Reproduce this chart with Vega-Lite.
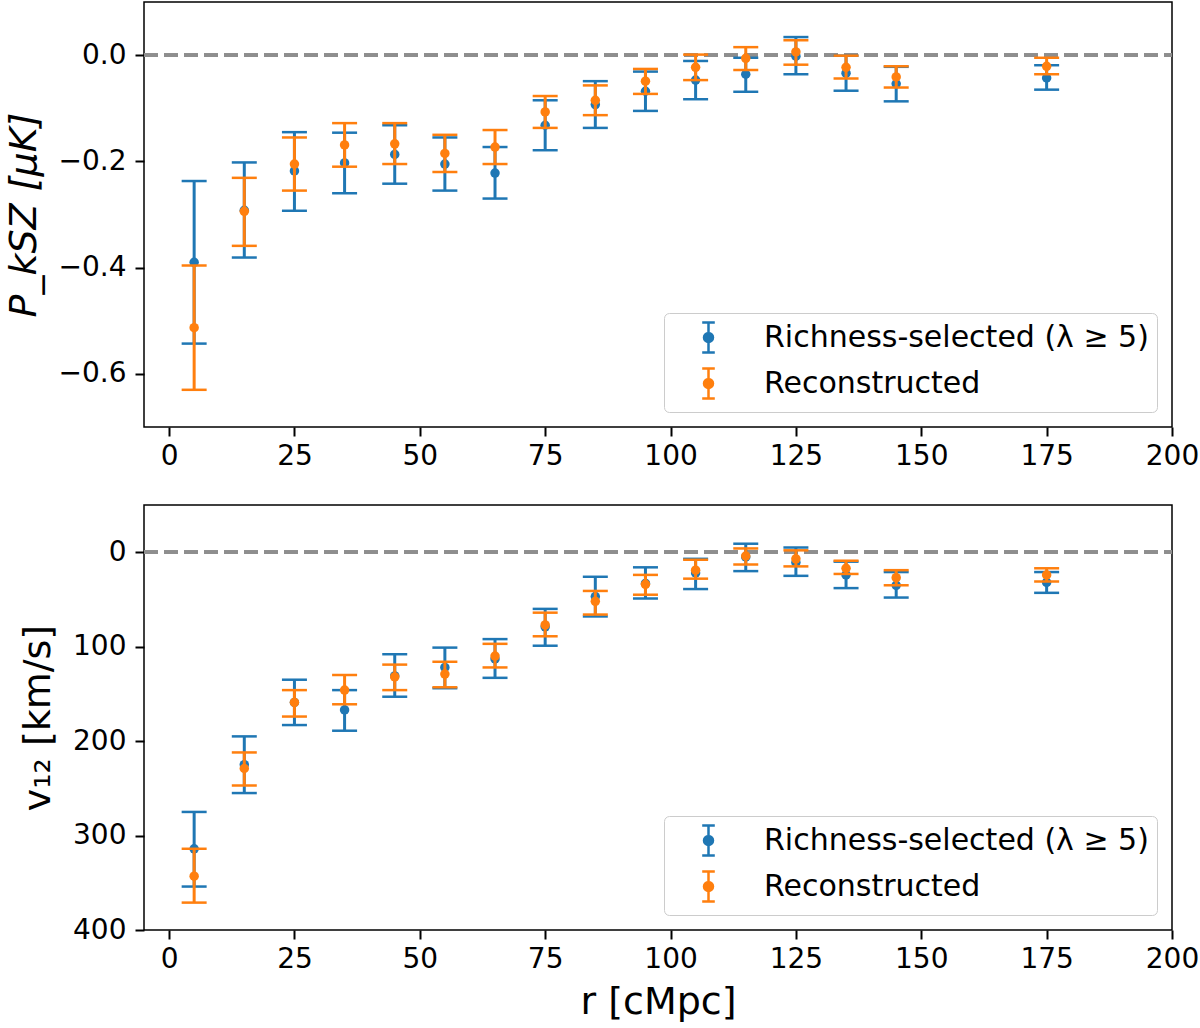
{
  "$schema": "https://vega.github.io/schema/vega-lite/v6.json",
  "background": "white",
  "padding": {"left": 4, "top": 1, "right": 0, "bottom": 0},
  "bounds": "flush",
  "spacing": 78,
  "datasets": {
    "pksz": [
      {"series": "Richness-selected (λ ≥ 5)", "r": 5, "y": -0.390, "lo": -0.543, "hi": -0.237},
      {"series": "Richness-selected (λ ≥ 5)", "r": 15, "y": -0.292, "lo": -0.381, "hi": -0.202},
      {"series": "Richness-selected (λ ≥ 5)", "r": 25, "y": -0.218, "lo": -0.293, "hi": -0.145},
      {"series": "Richness-selected (λ ≥ 5)", "r": 35, "y": -0.203, "lo": -0.260, "hi": -0.146},
      {"series": "Richness-selected (λ ≥ 5)", "r": 45, "y": -0.187, "lo": -0.242, "hi": -0.132},
      {"series": "Richness-selected (λ ≥ 5)", "r": 55, "y": -0.205, "lo": -0.255, "hi": -0.155},
      {"series": "Richness-selected (λ ≥ 5)", "r": 65, "y": -0.222, "lo": -0.270, "hi": -0.173},
      {"series": "Richness-selected (λ ≥ 5)", "r": 75, "y": -0.132, "lo": -0.179, "hi": -0.085},
      {"series": "Richness-selected (λ ≥ 5)", "r": 85, "y": -0.093, "lo": -0.137, "hi": -0.049},
      {"series": "Richness-selected (λ ≥ 5)", "r": 95, "y": -0.068, "lo": -0.105, "hi": -0.031},
      {"series": "Richness-selected (λ ≥ 5)", "r": 105, "y": -0.047, "lo": -0.083, "hi": -0.011},
      {"series": "Richness-selected (λ ≥ 5)", "r": 115, "y": -0.036, "lo": -0.069, "hi": -0.005},
      {"series": "Richness-selected (λ ≥ 5)", "r": 125, "y": -0.002, "lo": -0.036, "hi": 0.034},
      {"series": "Richness-selected (λ ≥ 5)", "r": 135, "y": -0.034, "lo": -0.067, "hi": -0.001},
      {"series": "Richness-selected (λ ≥ 5)", "r": 145, "y": -0.054, "lo": -0.087, "hi": -0.022},
      {"series": "Richness-selected (λ ≥ 5)", "r": 175, "y": -0.043, "lo": -0.065, "hi": -0.019},
      {"series": "Reconstructed", "r": 5, "y": -0.513, "lo": -0.630, "hi": -0.396},
      {"series": "Reconstructed", "r": 15, "y": -0.294, "lo": -0.359, "hi": -0.231},
      {"series": "Reconstructed", "r": 25, "y": -0.205, "lo": -0.255, "hi": -0.155},
      {"series": "Reconstructed", "r": 35, "y": -0.169, "lo": -0.210, "hi": -0.128},
      {"series": "Reconstructed", "r": 45, "y": -0.167, "lo": -0.205, "hi": -0.128},
      {"series": "Reconstructed", "r": 55, "y": -0.185, "lo": -0.220, "hi": -0.150},
      {"series": "Reconstructed", "r": 65, "y": -0.173, "lo": -0.205, "hi": -0.141},
      {"series": "Reconstructed", "r": 75, "y": -0.107, "lo": -0.137, "hi": -0.077},
      {"series": "Reconstructed", "r": 85, "y": -0.085, "lo": -0.113, "hi": -0.057},
      {"series": "Reconstructed", "r": 95, "y": -0.049, "lo": -0.073, "hi": -0.026},
      {"series": "Reconstructed", "r": 105, "y": -0.023, "lo": -0.047, "hi": 0.001},
      {"series": "Reconstructed", "r": 115, "y": -0.006, "lo": -0.028, "hi": 0.015},
      {"series": "Reconstructed", "r": 125, "y": 0.006, "lo": -0.018, "hi": 0.028},
      {"series": "Reconstructed", "r": 135, "y": -0.023, "lo": -0.044, "hi": -0.001},
      {"series": "Reconstructed", "r": 145, "y": -0.041, "lo": -0.061, "hi": -0.021},
      {"series": "Reconstructed", "r": 175, "y": -0.021, "lo": -0.036, "hi": -0.005}
    ],
    "v12": [
      {"series": "Richness-selected (λ ≥ 5)", "r": 5, "y": 314, "lo": 275, "hi": 354},
      {"series": "Richness-selected (λ ≥ 5)", "r": 15, "y": 225, "lo": 195, "hi": 255},
      {"series": "Richness-selected (λ ≥ 5)", "r": 25, "y": 159, "lo": 135, "hi": 183},
      {"series": "Richness-selected (λ ≥ 5)", "r": 35, "y": 167, "lo": 146, "hi": 189},
      {"series": "Richness-selected (λ ≥ 5)", "r": 45, "y": 131, "lo": 108, "hi": 153},
      {"series": "Richness-selected (λ ≥ 5)", "r": 55, "y": 122, "lo": 101, "hi": 144},
      {"series": "Richness-selected (λ ≥ 5)", "r": 65, "y": 113, "lo": 92, "hi": 133},
      {"series": "Richness-selected (λ ≥ 5)", "r": 75, "y": 79, "lo": 60, "hi": 99},
      {"series": "Richness-selected (λ ≥ 5)", "r": 85, "y": 47, "lo": 26, "hi": 68},
      {"series": "Richness-selected (λ ≥ 5)", "r": 95, "y": 33, "lo": 16, "hi": 49},
      {"series": "Richness-selected (λ ≥ 5)", "r": 105, "y": 22, "lo": 7, "hi": 39},
      {"series": "Richness-selected (λ ≥ 5)", "r": 115, "y": 5, "lo": -9, "hi": 20},
      {"series": "Richness-selected (λ ≥ 5)", "r": 125, "y": 11, "lo": -5, "hi": 25},
      {"series": "Richness-selected (λ ≥ 5)", "r": 135, "y": 24, "lo": 10, "hi": 38},
      {"series": "Richness-selected (λ ≥ 5)", "r": 145, "y": 35, "lo": 21, "hi": 48},
      {"series": "Richness-selected (λ ≥ 5)", "r": 175, "y": 32, "lo": 21, "hi": 43},
      {"series": "Reconstructed", "r": 5, "y": 343, "lo": 314, "hi": 371},
      {"series": "Reconstructed", "r": 15, "y": 229, "lo": 212, "hi": 247},
      {"series": "Reconstructed", "r": 25, "y": 159, "lo": 146, "hi": 174},
      {"series": "Reconstructed", "r": 35, "y": 146, "lo": 130, "hi": 161},
      {"series": "Reconstructed", "r": 45, "y": 132, "lo": 119, "hi": 146},
      {"series": "Reconstructed", "r": 55, "y": 129, "lo": 116, "hi": 143},
      {"series": "Reconstructed", "r": 65, "y": 110, "lo": 97, "hi": 122},
      {"series": "Reconstructed", "r": 75, "y": 77, "lo": 64, "hi": 89},
      {"series": "Reconstructed", "r": 85, "y": 52, "lo": 41, "hi": 66},
      {"series": "Reconstructed", "r": 95, "y": 34, "lo": 24, "hi": 45},
      {"series": "Reconstructed", "r": 105, "y": 19, "lo": 8, "hi": 28},
      {"series": "Reconstructed", "r": 115, "y": 4, "lo": -4, "hi": 13},
      {"series": "Reconstructed", "r": 125, "y": 7, "lo": -2, "hi": 15},
      {"series": "Reconstructed", "r": 135, "y": 17, "lo": 9, "hi": 23},
      {"series": "Reconstructed", "r": 145, "y": 27, "lo": 19, "hi": 35},
      {"series": "Reconstructed", "r": 175, "y": 24, "lo": 17, "hi": 31}
    ]
  },
  "vconcat": [
    {
      "width": 1028,
      "height": 425,
      "data": {"name": "pksz"},
      "encoding": {
        "x": {"field": "r", "type": "quantitative", "scale": {"domain": [-5, 200], "nice": false, "zero": false}, "axis": {"title": null, "values": [0, 25, 50, 75, 100, 125, 150, 175, 200]}}
      },
      "layer": [
        {
          "mark": {"type": "rule", "color": "#8e8e8e", "strokeWidth": 3, "strokeDash": [14, 6]},
          "encoding": {"x": {"datum": -5}, "x2": {"datum": 200}, "y": {"datum": 0, "type": "quantitative"}}
        },
        {
          "transform": [{"filter": "datum.series === 'Richness-selected (λ ≥ 5)'"}],
          "layer": [
            {"mark": {"type": "rule", "strokeWidth": 3},
             "encoding": {"y": {"field": "lo", "type": "quantitative", "scale": {"domain": [-0.7, 0.1], "nice": false, "zero": false}, "axis": {"title": "P_kSZ [μK]", "titleFontStyle": "italic", "values": [-0.6, -0.4, -0.2, 0.0], "format": ".1f"}}, "y2": {"field": "hi"},
               "stroke": {"field": "series", "type": "nominal", "scale": {"domain": ["Richness-selected (λ ≥ 5)", "Reconstructed"], "range": ["#1f77b4", "#ff7f0e"]}, "legend": {"title": null, "symbolType": "M-0.42,-1H0.42M0,-1V1M-0.42,1H0.42M0.3,0A0.3,0.3,0,1,1,-0.3,0A0.3,0.3,0,1,1,0.3,0Z"}}}},
            {"mark": {"type": "rule", "strokeWidth": 2.5, "xOffset": -12.5, "x2Offset": 12.5},
             "encoding": {"x2": {"field": "r"}, "y": {"field": "lo", "type": "quantitative"}, "stroke": {"field": "series", "type": "nominal"}}},
            {"mark": {"type": "rule", "strokeWidth": 2.5, "xOffset": -12.5, "x2Offset": 12.5},
             "encoding": {"x2": {"field": "r"}, "y": {"field": "hi", "type": "quantitative"}, "stroke": {"field": "series", "type": "nominal"}}},
            {"mark": {"type": "point", "filled": true, "size": 90, "opacity": 1},
             "encoding": {"y": {"field": "y", "type": "quantitative"}, "fill": {"field": "series", "type": "nominal", "scale": {"domain": ["Richness-selected (λ ≥ 5)", "Reconstructed"], "range": ["#1f77b4", "#ff7f0e"]}, "legend": {"title": null, "symbolType": "M-0.42,-1H0.42M0,-1V1M-0.42,1H0.42M0.3,0A0.3,0.3,0,1,1,-0.3,0A0.3,0.3,0,1,1,0.3,0Z"}}}}
          ]
        },
        {
          "transform": [{"filter": "datum.series === 'Reconstructed'"}],
          "layer": [
            {"mark": {"type": "rule", "strokeWidth": 3},
             "encoding": {"y": {"field": "lo", "type": "quantitative"}, "y2": {"field": "hi"}, "stroke": {"field": "series", "type": "nominal"}}},
            {"mark": {"type": "rule", "strokeWidth": 2.5, "xOffset": -12.5, "x2Offset": 12.5},
             "encoding": {"x2": {"field": "r"}, "y": {"field": "lo", "type": "quantitative"}, "stroke": {"field": "series", "type": "nominal"}}},
            {"mark": {"type": "rule", "strokeWidth": 2.5, "xOffset": -12.5, "x2Offset": 12.5},
             "encoding": {"x2": {"field": "r"}, "y": {"field": "hi", "type": "quantitative"}, "stroke": {"field": "series", "type": "nominal"}}},
            {"mark": {"type": "point", "filled": true, "size": 90, "opacity": 1},
             "encoding": {"y": {"field": "y", "type": "quantitative"}, "fill": {"field": "series", "type": "nominal"}}}
          ]
        }
      ]
    },
    {
      "width": 1028,
      "height": 425,
      "data": {"name": "v12"},
      "encoding": {
        "x": {"field": "r", "type": "quantitative", "scale": {"domain": [-5, 200], "nice": false, "zero": false}, "axis": {"title": "r [cMpc]", "values": [0, 25, 50, 75, 100, 125, 150, 175, 200]}}
      },
      "layer": [
        {
          "mark": {"type": "rule", "color": "#8e8e8e", "strokeWidth": 3, "strokeDash": [14, 6]},
          "encoding": {"x": {"datum": -5}, "x2": {"datum": 200}, "y": {"datum": 0, "type": "quantitative"}}
        },
        {
          "transform": [{"filter": "datum.series === 'Richness-selected (λ ≥ 5)'"}],
          "layer": [
            {"mark": {"type": "rule", "strokeWidth": 3},
             "encoding": {"y": {"field": "lo", "type": "quantitative", "scale": {"domain": [-50, 400], "nice": false, "zero": false, "reverse": true}, "axis": {"title": "v₁₂ [km/s]", "values": [0, 100, 200, 300, 400], "format": "d"}}, "y2": {"field": "hi"},
               "stroke": {"field": "series", "type": "nominal", "scale": {"domain": ["Richness-selected (λ ≥ 5)", "Reconstructed"], "range": ["#1f77b4", "#ff7f0e"]}, "legend": {"title": null, "symbolType": "M-0.42,-1H0.42M0,-1V1M-0.42,1H0.42M0.3,0A0.3,0.3,0,1,1,-0.3,0A0.3,0.3,0,1,1,0.3,0Z"}}}},
            {"mark": {"type": "rule", "strokeWidth": 2.5, "xOffset": -12.5, "x2Offset": 12.5},
             "encoding": {"x2": {"field": "r"}, "y": {"field": "lo", "type": "quantitative"}, "stroke": {"field": "series", "type": "nominal"}}},
            {"mark": {"type": "rule", "strokeWidth": 2.5, "xOffset": -12.5, "x2Offset": 12.5},
             "encoding": {"x2": {"field": "r"}, "y": {"field": "hi", "type": "quantitative"}, "stroke": {"field": "series", "type": "nominal"}}},
            {"mark": {"type": "point", "filled": true, "size": 90, "opacity": 1},
             "encoding": {"y": {"field": "y", "type": "quantitative"}, "fill": {"field": "series", "type": "nominal", "scale": {"domain": ["Richness-selected (λ ≥ 5)", "Reconstructed"], "range": ["#1f77b4", "#ff7f0e"]}, "legend": {"title": null, "symbolType": "M-0.42,-1H0.42M0,-1V1M-0.42,1H0.42M0.3,0A0.3,0.3,0,1,1,-0.3,0A0.3,0.3,0,1,1,0.3,0Z"}}}}
          ]
        },
        {
          "transform": [{"filter": "datum.series === 'Reconstructed'"}],
          "layer": [
            {"mark": {"type": "rule", "strokeWidth": 3},
             "encoding": {"y": {"field": "lo", "type": "quantitative"}, "y2": {"field": "hi"}, "stroke": {"field": "series", "type": "nominal"}}},
            {"mark": {"type": "rule", "strokeWidth": 2.5, "xOffset": -12.5, "x2Offset": 12.5},
             "encoding": {"x2": {"field": "r"}, "y": {"field": "lo", "type": "quantitative"}, "stroke": {"field": "series", "type": "nominal"}}},
            {"mark": {"type": "rule", "strokeWidth": 2.5, "xOffset": -12.5, "x2Offset": 12.5},
             "encoding": {"x2": {"field": "r"}, "y": {"field": "hi", "type": "quantitative"}, "stroke": {"field": "series", "type": "nominal"}}},
            {"mark": {"type": "point", "filled": true, "size": 90, "opacity": 1},
             "encoding": {"y": {"field": "y", "type": "quantitative"}, "fill": {"field": "series", "type": "nominal"}}}
          ]
        }
      ]
    }
  ],
  "resolve": {
    "scale": {"y": "independent", "fill": "independent", "stroke": "independent"},
    "legend": {"fill": "independent", "stroke": "independent"}
  },
  "config": {
    "font": "DejaVu Sans",
    "view": {"stroke": "black", "strokeWidth": 1.5},
    "axis": {
      "grid": false,
      "domain": false,
      "labelFont": "DejaVu Sans",
      "labelFontSize": 28,
      "labelColor": "black",
      "tickColor": "black",
      "tickSize": 9,
      "tickWidth": 2,
      "labelFlush": false,
      "labelOverlap": false,
      "titleFont": "DejaVu Sans",
      "titleFontSize": 38,
      "titleFontWeight": "normal",
      "titleColor": "black"
    },
    "axisY": {"labelPadding": 9, "titlePadding": 15},
    "axisX": {"labelPadding": 6, "titlePadding": 10},
    "legend": {
      "orient": "bottom-right",
      "offset": 15,
      "labelFont": "DejaVu Sans",
      "labelFontSize": 30,
      "labelColor": "black",
      "labelLimit": 700,
      "labelOffset": 39,
      "symbolSize": 900,
      "symbolStrokeWidth": 2.5,
      "symbolOffset": 20,
      "rowPadding": 5,
      "padding": 8,
      "fillColor": "rgba(255,255,255,0.8)",
      "strokeColor": "#cccccc",
      "cornerRadius": 5
    }
  }
}
